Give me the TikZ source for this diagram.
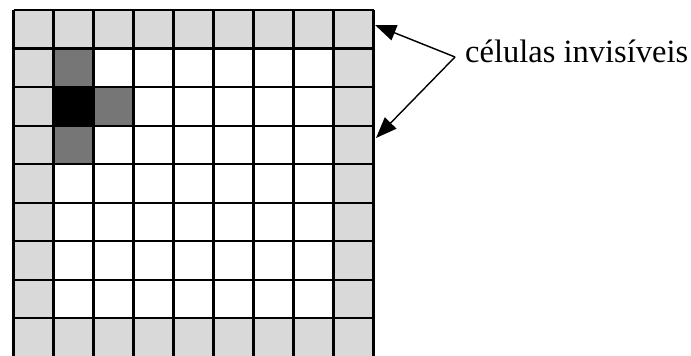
\documentclass[tikz,border=0pt]{standalone}
\usepackage{fontspec}
\setmainfont{Liberation Serif}
\usetikzlibrary{arrows.meta}
\definecolor{lightcell}{RGB}{217,217,217}
\definecolor{darkcell}{RGB}{118,118,118}
\begin{document}
\begin{tikzpicture}[x=1pt,y=-1pt,
  gridline/.style={line width=2.2pt, black},
  pointer/.style={line width=1.4pt, -{Triangle[length=21pt,width=16pt]}},
  lbl/.style={font=\fontsize{32.5}{38}\selectfont, inner sep=0pt, anchor=base west}]
\useasboundingbox (0,0) rectangle (691,356);
\def\gx{13.5}\def\gy{10}\def\cw{40}\def\ch{38.54}
% border (invisible) cells
\fill[lightcell] (\gx,\gy) rectangle ({\gx+9*\cw},{\gy+9*\ch});
\fill[white] ({\gx+\cw},{\gy+\ch}) rectangle ({\gx+8*\cw},{\gy+8*\ch});
% shaded cells
\fill[darkcell] ({\gx+1*\cw},{\gy+1*\ch}) rectangle ({\gx+2*\cw},{\gy+2*\ch});
\fill[darkcell] ({\gx+2*\cw},{\gy+2*\ch}) rectangle ({\gx+3*\cw},{\gy+3*\ch});
\fill[darkcell] ({\gx+1*\cw},{\gy+3*\ch}) rectangle ({\gx+2*\cw},{\gy+4*\ch});
\fill[black] ({\gx+1*\cw},{\gy+2*\ch}) rectangle ({\gx+2*\cw},{\gy+3*\ch});
% grid lines
\foreach \i in {0,...,9}{
  \draw[gridline] ({\gx+\i*\cw},\gy) -- ({\gx+\i*\cw},{\gy+9*\ch});
  \draw[gridline] (\gx,{\gy+\i*\ch}) -- ({\gx+9*\cw},{\gy+\i*\ch});
}
% label and arrows
\node[lbl] (label) at (465,62.3) {células invisíveis};
\coordinate (origin) at (455,57);
\coordinate (tipA) at (375,25);
\coordinate (tipB) at (376,138);
\draw[pointer] (origin) -- (tipA);
\draw[pointer] (origin) -- (tipB);
\end{tikzpicture}
\end{document}
